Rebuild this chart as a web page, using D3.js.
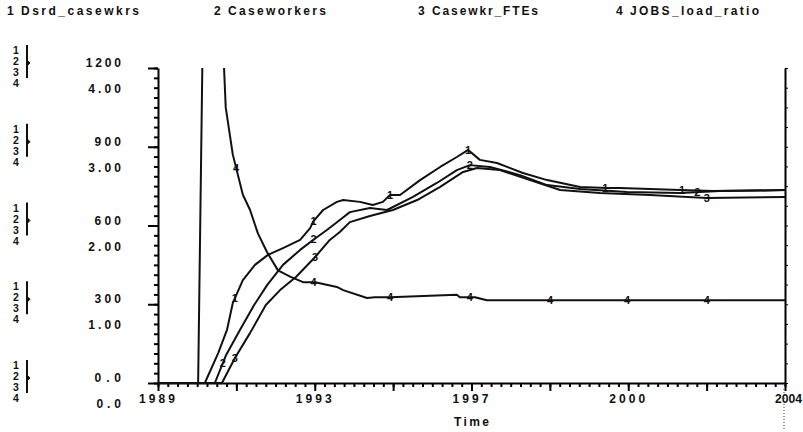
<!DOCTYPE html>
<html>
<head>
<meta charset="utf-8">
<script src="https://d3js.org/d3.v7.min.js"></script>
<style>
body { margin: 0; background: #fff; }
svg { display: block; }
text { font-family: "Liberation Sans", Arial, sans-serif; font-weight: bold; fill: #111; }
</style>
</head>
<body>
<script>
// series names (legend order)
var seriesNames = ["Dsrd_casewkrs", "Caseworkers", "Casewkr_FTEs", "JOBS_load_ratio"];

// axis ticks
var caseTicks = [0, 300, 600, 900, 1200];
var caseTickText = ["0.0", "300", "600", "900", "1200"];
var ratioTicks = [0, 1, 2, 3, 4];
var ratioTickText = ["0.0", "1.00", "2.00", "3.00", "4.00"];
var timeTicks = [1989, 1992.75, 1996.5, 2000.25, 2004];
var timeTickText = ["1989", "1993", "1997", "2000", "2004"];

// 1 Dsrd_casewkrs
var s1Time = [1989, 1990.12, 1990.44, 1990.65, 1990.79, 1991.03, 1991.32, 1991.63, 1991.99, 1992.40, 1992.64, 1992.71, 1992.95, 1993.28, 1993.43, 1993.83, 1994.14, 1994.38, 1994.55, 1994.79, 1995.27, 1995.75, 1996.15, 1996.42, 1996.70, 1997.11, 1997.73, 1998.31, 1999.10, 1999.74, 2000.05, 2001.49, 2002.28, 2004];
var s1Val = [0, 0, 114, 202, 305, 392, 450, 488, 514, 545, 590, 615, 659, 690, 697, 690, 678, 690, 716, 716, 773, 823, 861, 888, 850, 838, 800, 773, 747, 743, 743, 735, 731, 735];

// 2 Caseworkers
var s2Time = [1989, 1990.36, 1990.63, 1990.96, 1991.30, 1991.61, 1991.99, 1992.40, 1992.71, 1993.04, 1993.35, 1993.59, 1994.07, 1994.48, 1995.10, 1995.67, 1996.15, 1996.46, 1996.94, 1997.66, 1998.31, 1999.10, 2000.22, 2001.49, 2002.44, 2004];
var s2Val = [0, 0, 107, 202, 297, 373, 450, 507, 545, 583, 621, 651, 667, 659, 709, 762, 811, 830, 823, 792, 754, 739, 728, 724, 731, 735];

// 3 Casewkr_FTEs
var s3Time = [1989, 1990.53, 1990.84, 1991.20, 1991.58, 1991.92, 1992.30, 1992.76, 1993.11, 1993.35, 1993.59, 1994.07, 1994.62, 1995.20, 1995.75, 1996.30, 1996.63, 1997.18, 1997.90, 1998.62, 1999.57, 2000.77, 2002.13, 2004];
var s3Val = [0, 0, 95, 190, 297, 354, 404, 480, 545, 575, 613, 636, 659, 697, 747, 804, 819, 811, 773, 735, 724, 716, 705, 709];

// 4 JOBS_load_ratio
var s4Time = [1989, 1989.96, 1990.06, 1990.15, 1990.40, 1990.58, 1990.62, 1990.79, 1991.03, 1991.20, 1991.39, 1991.61, 1991.87, 1992.16, 1992.47, 1992.76, 1993.28, 1993.43, 1994.00, 1994.19, 1994.55, 1996.15, 1996.22, 1996.58, 1996.87, 2004];
var s4Val = [0, 0, 4.0, 12, 6, 4.0, 3.50, 2.90, 2.39, 2.20, 1.90, 1.66, 1.43, 1.35, 1.28, 1.28, 1.22, 1.18, 1.08, 1.09, 1.09, 1.12, 1.09, 1.09, 1.05, 1.05];

// times where the series number is written on the line
var s1Marks = [1990.84, 1992.72, 1994.55, 1996.42, 1999.70, 2001.54];
var s2Marks = [1990.55, 1992.72, 1996.46, 2001.90];
var s3Marks = [1990.84, 1992.76, 2002.13];
var s4Marks = [1990.87, 1992.72, 1994.55, 1996.46, 1998.38, 2000.22, 2002.13];

var width = 803, height = 432;
var plotLeft = 158, plotRight = 785, plotTop = 68, plotBottom = 383;

var svg = d3.select('body').append('svg')
    .attr('width', width)
    .attr('height', height);

var x = d3.scaleLinear().domain([1989, 2004]).range([plotLeft, plotRight]);
var yCase = d3.scaleLinear().domain([0, 1200]).range([plotBottom, plotTop]);
var yRatio = d3.scaleLinear().domain([0, 4]).range([plotBottom, plotTop]);

// legend across the top
var legendX = [7, 214, 418, 616];
var legendW = [118, 98, 106, 129];
seriesNames.forEach(function (name, i) {
    svg.append('text')
        .attr('x', legendX[i])
        .attr('y', 15)
        .attr('font-size', 12)
        .text(i + 1);
    svg.append('text')
        .attr('x', legendX[i] + 14)
        .attr('y', 15)
        .attr('font-size', 12)
        .attr('textLength', legendW[i])
        .attr('lengthAdjust', 'spacing')
        .text(name);
});

// left axis: minor and major ticks
svg.append('g')
    .attr('transform', 'translate(' + plotLeft + ',0)')
    .call(d3.axisLeft(yCase).tickValues(d3.range(0, 1200.1, 37.5)).tickSize(4).tickSizeOuter(0).tickFormat(''))
    .call(function (g) {
        g.select('.domain').attr('stroke-width', 2);
        g.selectAll('line').attr('stroke-width', 2);
    });
svg.append('g')
    .attr('transform', 'translate(' + plotLeft + ',0)')
    .call(d3.axisLeft(yCase).tickValues(caseTicks).tickSize(10).tickSizeOuter(0).tickFormat(''))
    .call(function (g) {
        g.select('.domain').remove();
        g.selectAll('line').attr('stroke-width', 2);
    });

// left axis labels, two scales stacked
caseTicks.forEach(function (v, i) {
    var t = yCase(v);
    svg.append('text')
        .attr('x', 121).attr('y', t - 1)
        .attr('font-size', 12)
        .attr('text-anchor', 'end')
        .attr('textLength', caseTickText[i].length * 8.8)
        .attr('lengthAdjust', 'spacing')
        .text(caseTickText[i]);
    svg.append('text')
        .attr('x', 121).attr('y', yRatio(ratioTicks[i]) + 25)
        .attr('font-size', 12)
        .attr('text-anchor', 'end')
        .attr('textLength', ratioTickText[i].length * 8.2)
        .attr('lengthAdjust', 'spacing')
        .text(ratioTickText[i]);

    // little stacked series keys with bracket
    var key = svg.append('g').attr('transform', 'translate(0,' + t + ')');
    [-14, -3, 8, 19].forEach(function (dy, k) {
        key.append('text')
            .attr('x', 16).attr('y', dy)
            .attr('font-size', 10.5)
            .attr('text-anchor', 'middle')
            .text(k + 1);
    });
    key.append('line')
        .attr('x1', 27).attr('x2', 27)
        .attr('y1', -23).attr('y2', 10)
        .attr('stroke', '#111').attr('stroke-width', 2);
    key.append('path')
        .attr('d', 'M27,-8 L30,-5 L27,-2 Z')
        .attr('fill', '#111').attr('stroke', '#111');
});

// bottom axis
var minorTime = d3.range(65).map(function (i) { return 1989 + i * 15 / 64; });
svg.append('g')
    .attr('transform', 'translate(0,' + plotBottom + ')')
    .call(d3.axisBottom(x).tickValues(minorTime).tickSize(4).tickSizeOuter(0).tickFormat(''))
    .call(function (g) {
        g.select('.domain').attr('stroke-width', 2);
        g.selectAll('line').attr('stroke-width', 2);
    });
svg.append('g')
    .attr('transform', 'translate(0,' + plotBottom + ')')
    .call(d3.axisBottom(x).tickValues(d3.range(9).map(function (i) { return 1989 + i * 1.875; })).tickSize(8).tickSizeOuter(0).tickFormat(''))
    .call(function (g) {
        g.select('.domain').remove();
        g.selectAll('line').attr('stroke-width', 2);
    });

timeTicks.forEach(function (t, i) {
    var last = i === timeTicks.length - 1;
    var lbl = svg.append('text')
        .attr('x', last ? 802 : x(t) - 1)
        .attr('y', 403)
        .attr('font-size', 12)
        .attr('text-anchor', last ? 'end' : 'middle')
        .text(timeTickText[i]);
    if (last) {
        lbl.attr('textLength', 27).attr('lengthAdjust', 'spacingAndGlyphs');
    } else {
        lbl.attr('textLength', 36).attr('lengthAdjust', 'spacing');
    }
});

svg.append('text')
    .attr('x', x(1996.5))
    .attr('y', 426)
    .attr('font-size', 12)
    .attr('text-anchor', 'middle')
    .attr('textLength', 35)
    .attr('lengthAdjust', 'spacing')
    .text('Time');

// right axis
svg.append('g')
    .attr('transform', 'translate(' + plotRight + ',0)')
    .call(d3.axisRight(yCase).tickValues(d3.range(0, 1200.1, 75)).tickSize(3).tickSizeOuter(0).tickFormat(''))
    .call(function (g) { g.select('.domain').attr('stroke-width', 2); });
svg.append('line')
    .attr('x1', plotRight - 1).attr('x2', plotRight - 1)
    .attr('y1', plotBottom + 6).attr('y2', 430)
    .attr('stroke', '#333')
    .attr('stroke-dasharray', '1,2');

// plot lines
svg.append('clipPath').attr('id', 'plotclip')
    .append('rect')
    .attr('x', plotLeft).attr('y', plotTop)
    .attr('width', plotRight - plotLeft).attr('height', plotBottom - plotTop + 1);

var plot = svg.append('g').attr('clip-path', 'url(#plotclip)');

var series = [
    { t: s4Time, v: s4Val, y: yRatio, marks: s4Marks, n: 4 },
    { t: s3Time, v: s3Val, y: yCase, marks: s3Marks, n: 3 },
    { t: s2Time, v: s2Val, y: yCase, marks: s2Marks, n: 2 },
    { t: s1Time, v: s1Val, y: yCase, marks: s1Marks, n: 1 }
];

series.forEach(function (s) {
    var pts = s.t.map(function (t, i) { return [t, s.v[i]]; });
    var line = d3.line()
        .x(function (d) { return x(d[0]); })
        .y(function (d) { return s.y(d[1]); });
    plot.append('path')
        .datum(pts)
        .attr('d', line)
        .attr('fill', 'none')
        .attr('stroke', '#111')
        .attr('stroke-width', 2)
        .attr('stroke-linejoin', 'round');

    var at = d3.scaleLinear().domain(s.t).range(s.v);
    s.marks.forEach(function (m) {
        plot.append('text')
            .attr('x', x(m))
            .attr('y', s.y(at(m)))
            .attr('dy', '0.35em')
            .attr('font-size', 11)
            .attr('text-anchor', 'middle')
            .text(s.n);
    });
});
</script>
</body>
</html>
